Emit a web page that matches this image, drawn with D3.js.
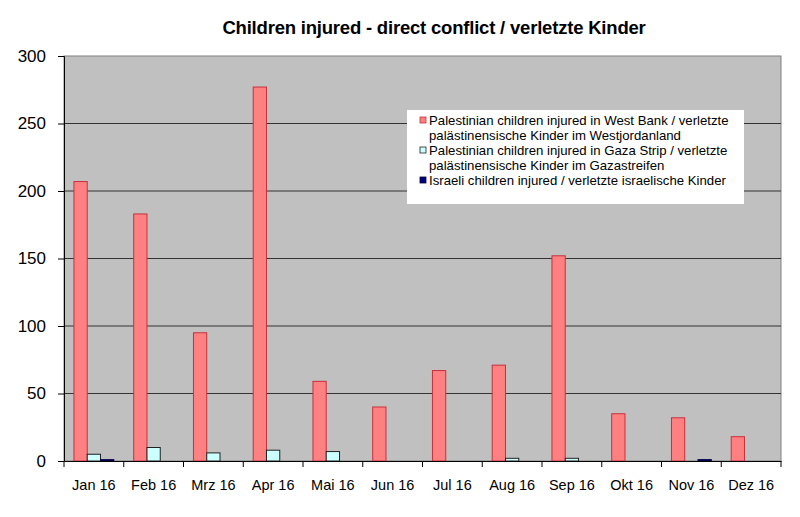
<!DOCTYPE html>
<html><head><meta charset="utf-8">
<script src="https://cdn.jsdelivr.net/npm/d3@7"></script>
<style>body{margin:0;background:#fff}svg{display:block}text{font-family:"Liberation Sans",Arial,sans-serif}</style>
</head><body>
<svg id="c" width="800" height="517"></svg>
<script>
const months = ["Jan 16","Feb 16","Mrz 16","Apr 16","Mai 16","Jun 16","Jul 16","Aug 16","Sep 16","Okt 16","Nov 16","Dez 16"];
const westBank = [207,183,95,277,59,40,67,71,152,35,32,18];
const gaza = [5,10,6,8,7,0,0,2,2,0,0,0];
const israeli = [1,0,0,0,0,0,0,0,0,0,1,0];
const yTicks = [0,50,100,150,200,250,300];
const seriesNames = [
  ["Palestinian children injured in West Bank / verletzte","palästinensische Kinder im Westjordanland"],
  ["Palestinian children injured in Gaza Strip / verletzte","palästinensische Kinder im Gazastreifen"],
  ["Israeli children injured / verletzte israelische Kinder"]
];
const fills = ["#FF8080","#CCFFFF","#000080"];
const strokes = ["#C8303A","#222","#000040"];

const svg = d3.select("#c");
const L=64,R=781,T=56,B=461;
const x = d3.scaleBand().domain(months).range([L,R]).paddingInner(0).paddingOuter(0);
const inner = d3.scaleBand().domain([0,1,2]).range([0,x.bandwidth()]).paddingInner(0).paddingOuter(0.75);
const y = d3.scaleLinear().domain([0,300]).range([B,T]);

svg.append("rect").attr("x",L).attr("y",T).attr("width",R-L).attr("height",B-T).attr("fill","#C0C0C0").attr("stroke","#808080").attr("stroke-width",1);
svg.append("g").selectAll("line").data(yTicks.filter(d=>d>0&&d<300)).join("line")
  .attr("x1",L).attr("x2",R).attr("y1",d=>y(d)).attr("y2",d=>y(d)).attr("stroke","#333").attr("stroke-width",1);

const series=[westBank,gaza,israeli];
series.forEach((vals,si)=>{
  svg.append("g").selectAll("rect").data(vals).join("rect")
    .attr("x",(d,i)=>x(months[i])+inner(si))
    .attr("y",d=>y(d))
    .attr("width",inner.bandwidth())
    .attr("height",d=>B-y(d))
    .attr("fill",fills[si]).attr("stroke",strokes[si]).attr("stroke-width",1)
    .attr("display",d=>d>0?null:"none");
});

const ya = svg.append("g").attr("transform",`translate(${L},0)`).call(d3.axisLeft(y).tickValues(yTicks).tickSize(6).tickPadding(12).tickFormat(d3.format("d")));
ya.selectAll("text").attr("font-size",17).attr("fill","#000").attr("font-family","Liberation Sans, Arial, sans-serif");
ya.select(".domain").attr("stroke","#000");
ya.selectAll(".tick line").attr("stroke","#000");

const xa = svg.append("g").attr("transform",`translate(0,${B})`).call(d3.axisBottom(x).tickSize(0).tickPadding(19));
xa.selectAll("text").attr("font-size",14.5).attr("fill","#000").attr("font-family","Liberation Sans, Arial, sans-serif");
xa.select(".domain").attr("stroke","#000");
svg.append("g").selectAll("line").data(months.concat(["end"])).join("line")
  .attr("x1",(d,i)=>L+i*x.step()).attr("x2",(d,i)=>L+i*x.step())
  .attr("y1",B).attr("y2",B+6).attr("stroke","#000");

svg.append("text").attr("x",434).attr("y",34).attr("text-anchor","middle").attr("font-size",18.5).attr("font-weight","bold").attr("letter-spacing",-0.2).text("Children injured - direct conflict / verletzte Kinder");

const lg = svg.append("g");
lg.append("rect").attr("x",407).attr("y",110).attr("width",337).attr("height",94).attr("fill","#fff");
let ly=125;
seriesNames.forEach((lines,si)=>{
  lg.append("rect").attr("x",420).attr("y",ly-8).attr("width",6).attr("height",6).attr("fill",fills[si]).attr("stroke",strokes[si]).attr("stroke-width",0.8);
  lines.forEach((t,j)=>{
    lg.append("text").attr("x",429).attr("y",ly).attr("font-size",13.2).text(t);
    ly+=15;
  });
});
</script>
</body></html>
